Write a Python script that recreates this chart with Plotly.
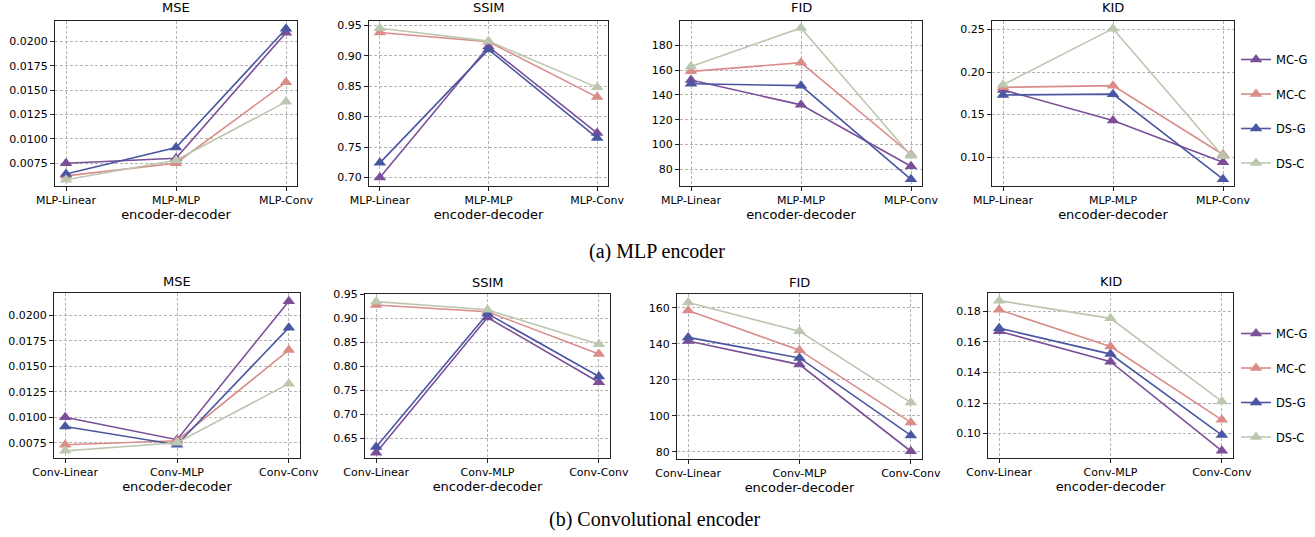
import plotly.graph_objects as go

W, H = 1315, 537

series = ["MC-G", "MC-C", "DS-G", "DS-C"]
colors = {"MC-G": "#7a4f98", "MC-C": "#d98c88", "DS-G": "#4a56a2", "DS-C": "#bcc7b0"}

cats_mlp = ["MLP-Linear", "MLP-MLP", "MLP-Conv"]
cats_conv = ["Conv-Linear", "Conv-MLP", "Conv-Conv"]

# (a) MLP encoder
mlp_mse = {"MC-G": [0.0075, 0.0080, 0.0209], "MC-C": [0.0062, 0.0075, 0.0158],
           "DS-G": [0.0064, 0.0091, 0.0213], "DS-C": [0.0058, 0.0078, 0.0138]}
mlp_ssim = {"MC-G": [0.700, 0.915, 0.773], "MC-C": [0.938, 0.923, 0.832],
            "DS-G": [0.724, 0.910, 0.765], "DS-C": [0.945, 0.924, 0.848]}
mlp_fid = {"MC-G": [152, 132, 82.5], "MC-C": [159, 166, 92],
           "DS-G": [149, 147.5, 72], "DS-C": [163, 194, 91]}
mlp_kid = {"MC-G": [0.179, 0.143, 0.094], "MC-C": [0.182, 0.184, 0.103],
           "DS-G": [0.173, 0.174, 0.074], "DS-C": [0.185, 0.251, 0.101]}

# (b) Convolutional encoder
conv_mse = {"MC-G": [0.0100, 0.0078, 0.0214], "MC-C": [0.0073, 0.0077, 0.0166],
            "DS-G": [0.0091, 0.0073, 0.0188], "DS-C": [0.0067, 0.0075, 0.0133]}
conv_ssim = {"MC-G": [0.620, 0.902, 0.767], "MC-C": [0.928, 0.914, 0.826],
             "DS-G": [0.632, 0.910, 0.779], "DS-C": [0.935, 0.918, 0.846]}
conv_fid = {"MC-G": [141.6, 128.5, 80.4], "MC-C": [158.5, 136.5, 96.4],
            "DS-G": [143.6, 132.2, 89.2], "DS-C": [163, 147, 107.4]}
conv_kid = {"MC-G": [0.167, 0.147, 0.0887], "MC-C": [0.181, 0.157, 0.109],
            "DS-G": [0.169, 0.152, 0.099], "DS-C": [0.187, 0.1754, 0.121]}

titles = ["MSE", "SSIM", "FID", "KID"]

# y-axis settings per panel: (range, dtick, tick0, format)
yspec_row1 = [([0.00516, 0.0221], 0.0025, 0.0075, ".4f"),
              ([0.686, 0.957], 0.05, 0.70, ".2f"),
              ([66.6, 199.6], 20, 80, "d"),
              ([0.066, 0.260], 0.05, 0.10, ".2f")]
yspec_row2 = [([0.0060, 0.0222], 0.0025, 0.0075, ".4f"),
              ([0.609, 0.951], 0.05, 0.65, ".2f"),
              ([76.1, 167.7], 20, 80, "d"),
              ([0.084, 0.192], 0.02, 0.10, ".2f")]

# panel frames in pixels (left, right, top, bottom)
frames_row1 = [(55, 297, 21, 186), (369, 608, 21, 186), (680, 922, 21, 186), (992, 1234, 21, 186)]
frames_row2 = [(54, 300, 293, 458), (365, 610, 294, 458), (677, 922, 294, 459), (988, 1233, 293, 458)]

TICKFONT = dict(family="DejaVu Sans", size=11, color="#000000")
TITLEFONT = dict(family="DejaVu Sans", size=13, color="#000000")

fig = go.Figure()
layout = dict(width=W, height=H, margin=dict(l=0, r=0, t=0, b=0, pad=0, autoexpand=False),
              paper_bgcolor="white", plot_bgcolor="white", annotations=[])

panels = []
for i, d in enumerate([mlp_mse, mlp_ssim, mlp_fid, mlp_kid]):
    panels.append((d, cats_mlp, yspec_row1[i], frames_row1[i], titles[i], "legend"))
for i, d in enumerate([conv_mse, conv_ssim, conv_fid, conv_kid]):
    panels.append((d, cats_conv, yspec_row2[i], frames_row2[i], titles[i], "legend2"))

for k, (data, cats, yspec, fr, title, leg) in enumerate(panels):
    idx = k + 1
    xa = "x" if idx == 1 else f"x{idx}"
    ya = "y" if idx == 1 else f"y{idx}"
    first_in_row = k in (3, 7)
    for s in series:
        fig.add_trace(go.Scatter(
            x=[0, 1, 2], y=data[s], mode="lines+markers", name=s,
            line=dict(color=colors[s], width=1.6),
            marker=dict(symbol="triangle-up", size=11, color=colors[s]),
            xaxis=xa, yaxis=ya, legend=leg, legendgroup=f"{leg}-{s}",
            showlegend=first_in_row,
        ))
    l, r, t, b = fr
    xkey = "xaxis" if idx == 1 else f"xaxis{idx}"
    ykey = "yaxis" if idx == 1 else f"yaxis{idx}"
    axcommon = dict(showline=True, linecolor="#222222", linewidth=1, mirror=True,
                    ticks="outside", ticklen=4, tickcolor="#222222",
                    showgrid=True, gridcolor="#b4b4b4", griddash="3px,2px", gridwidth=0.8,
                    zeroline=False, tickfont=TICKFONT, automargin=False)
    layout[xkey] = dict(axcommon, domain=[l / W, r / W], anchor=ya,
                        range=[-0.1, 2.1], tickmode="array", tickvals=[0, 1, 2],
                        ticktext=cats,
                        title=dict(text="encoder-decoder", font=TITLEFONT, standoff=3))
    rng, dt, t0, fmt = yspec
    layout[ykey] = dict(axcommon, domain=[1 - b / H, 1 - t / H], anchor=xa,
                        range=rng, tickmode="linear", dtick=dt, tick0=t0,
                        tickformat=fmt)
    tpad = 4 if k < 4 else 2
    layout["annotations"].append(dict(
        text=title, x=(l + r) / 2 / W, y=1 - (t - tpad) / H, xref="paper", yref="paper",
        xanchor="center", yanchor="bottom", showarrow=False, font=TITLEFONT))

legcommon = dict(font=dict(family="DejaVu Sans", size=11.5, color="#000000"),
                 traceorder="grouped", tracegroupgap=15.5, bgcolor="rgba(0,0,0,0)",
                 xanchor="left", yanchor="top", itemwidth=30)
layout["legend"] = dict(legcommon, x=1236 / W, y=1 - 45 / H)
layout["legend2"] = dict(legcommon, x=1236 / W, y=1 - 319 / H)

layout["annotations"].append(dict(
    text="(a) MLP encoder", x=657 / W, y=1 - 252 / H, xref="paper", yref="paper",
    xanchor="center", yanchor="middle", showarrow=False,
    font=dict(family="Liberation Serif", size=20, color="#000000")))
layout["annotations"].append(dict(
    text="(b) Convolutional encoder", x=654 / W, y=1 - 519 / H, xref="paper", yref="paper",
    xanchor="center", yanchor="middle", showarrow=False,
    font=dict(family="Liberation Serif", size=20, color="#000000")))

fig.update_layout(**layout)
fig.write_html("out.html", config={"displayModeBar": False},
               post_script="document.body.style.margin='0';")
